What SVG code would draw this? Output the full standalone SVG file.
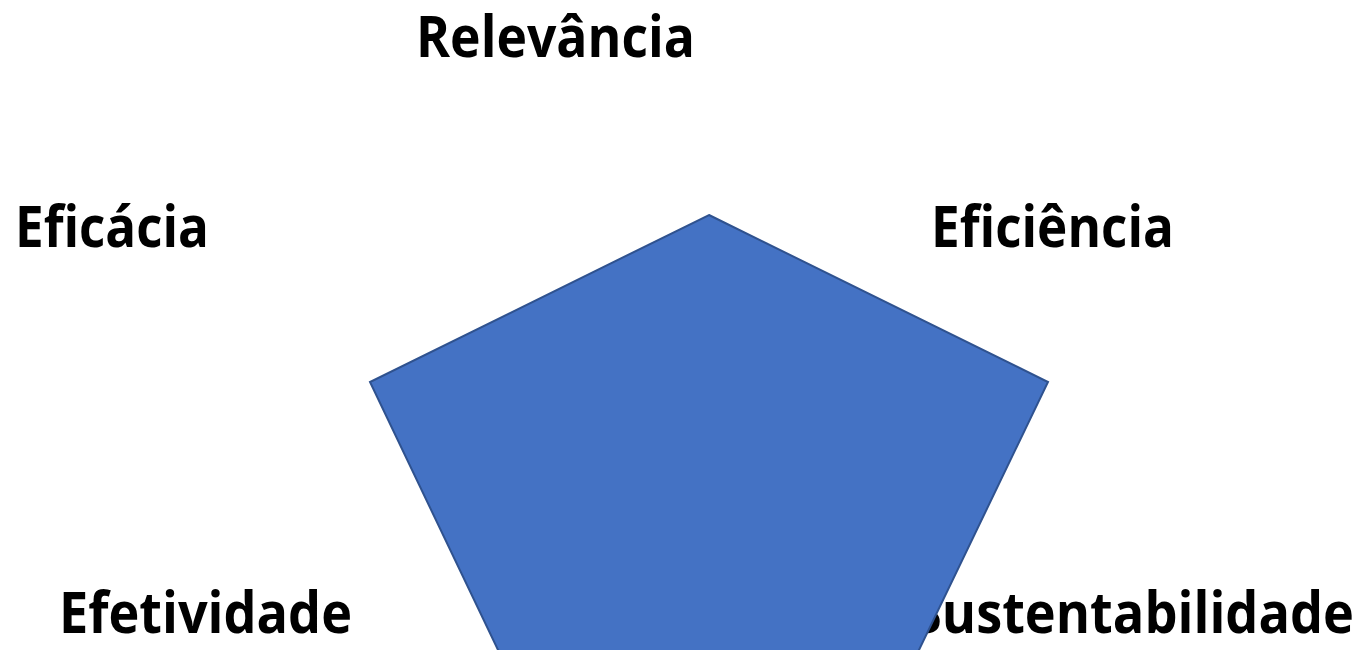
<svg xmlns="http://www.w3.org/2000/svg" width="1362" height="650" viewBox="0 0 1362 650">
<style>
.lbl{font-family:"Open Sans","Liberation Sans",sans-serif;font-weight:700;font-size:57px;fill:#000}
.pent{fill:#4472C4;stroke:#2F528F;stroke-width:2;stroke-linejoin:miter}
</style>
<rect width="1362" height="650" fill="#fff"/>
<g id="labels">
<g id="relevancia"><text class="lbl" x="416" y="57" textLength="279" lengthAdjust="spacingAndGlyphs">Relevância</text></g>
<g id="eficacia"><text class="lbl" x="15" y="247" textLength="194" lengthAdjust="spacingAndGlyphs">Eficácia</text></g>
<g id="eficiencia"><text class="lbl" x="931" y="247" textLength="243" lengthAdjust="spacingAndGlyphs">Eficiência</text></g>
<g id="efetividade"><text class="lbl" x="59" y="633" textLength="293" lengthAdjust="spacingAndGlyphs">Efetividade</text></g>
<g id="sustentabilidade"><text class="lbl" x="913" y="633" textLength="441" lengthAdjust="spacingAndGlyphs">Sustentabilidade</text></g>
</g>
<g id="pentagon">
<polygon class="pent" points="709,215 1048,382 918,652 499,652 370,382"/>
</g>
</svg>
